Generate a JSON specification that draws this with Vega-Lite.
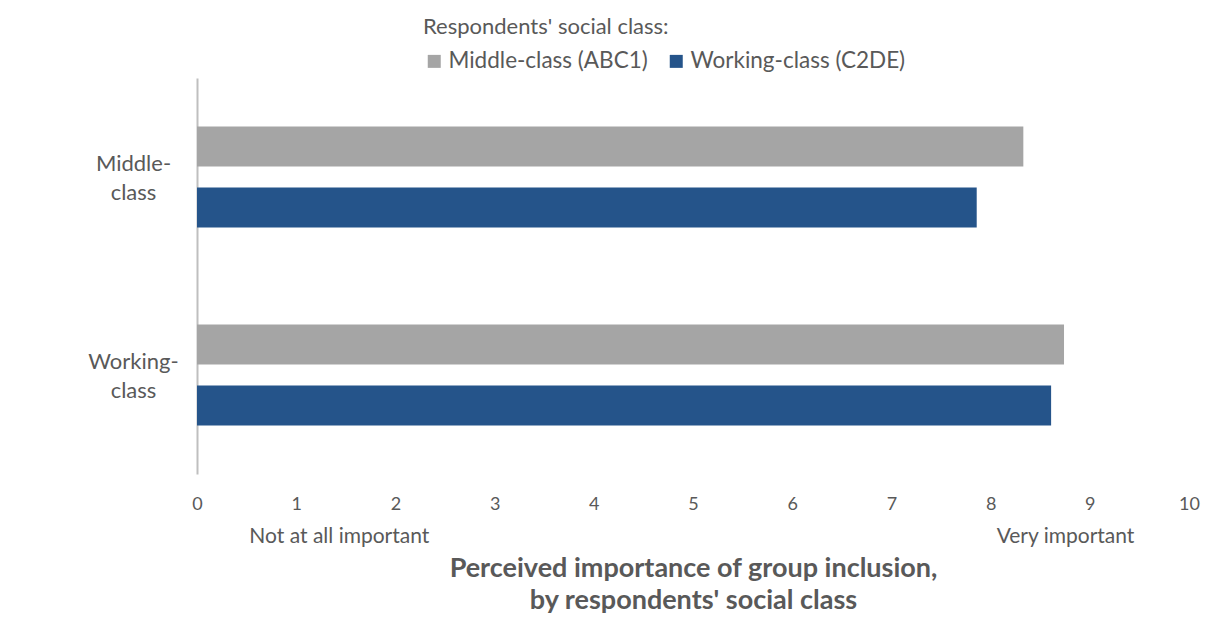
{
  "$schema": "https://vega.github.io/schema/vega-lite/v6.json",
  "autosize": "none",
  "width": 992,
  "height": 396,
  "padding": {"left": 197, "top": 78, "right": 34, "bottom": 151},
  "background": "white",
  "config": {
    "font": "Lato",
    "view": {"stroke": null}
  },
  "data": {
    "values": [
      {"group": "Middle-class", "respondents": "Middle-class (ABC1)", "score": 8.33},
      {"group": "Middle-class", "respondents": "Working-class (C2DE)", "score": 7.86},
      {"group": "Working-class", "respondents": "Middle-class (ABC1)", "score": 8.74},
      {"group": "Working-class", "respondents": "Working-class (C2DE)", "score": 8.61}
    ]
  },
  "mark": {"type": "bar"},
  "encoding": {
    "y": {
      "field": "group",
      "type": "nominal",
      "sort": ["Middle-class", "Working-class"],
      "scale": {"paddingInner": 0, "paddingOuter": 0},
      "axis": {
        "title": null,
        "ticks": false,
        "tickSize": 0,
        "grid": false,
        "domainColor": "#BFBFBF",
        "domainWidth": 2,
        "labelAlign": "center",
        "labelPadding": 64,
        "labelFontSize": 22,
        "labelColor": "#595959",
        "labelLineHeight": 29,
        "labelOffset": -13.5,
        "labelExpr": "datum.label == 'Middle-class' ? ['Middle-', 'class'] : ['Working-', 'class']"
      }
    },
    "yOffset": {
      "field": "respondents",
      "type": "nominal",
      "sort": ["Middle-class (ABC1)", "Working-class (C2DE)"],
      "scale": {"paddingInner": 0.344, "paddingOuter": 0.795}
    },
    "x": {
      "field": "score",
      "type": "quantitative",
      "scale": {"domain": [0, 10], "nice": false},
      "axis": {
        "values": [0, 1, 2, 3, 4, 5, 6, 7, 8, 9, 10, 1.43, 8.75],
        "labelExpr": "datum.value == 1.43 ? ['', 'Not at all important'] : (datum.value == 8.75 ? ['', 'Very important'] : format(datum.value, 'd'))",
        "labelOverlap": false,
        "labelBound": false,
        "labelFlush": false,
        "domain": false,
        "ticks": false,
        "tickSize": 0,
        "grid": false,
        "labelPadding": 21,
        "labelFontSize": {"condition": {"test": "datum.value == 1.43 || datum.value == 8.75", "value": 21}, "value": 18},
        "labelLineHeight": 30,
        "labelColor": "#595959",
        "title": ["Perceived importance of group inclusion,", "by respondents' social class"],
        "titleFontSize": 27,
        "titleFontWeight": "bold",
        "titleColor": "#595959",
        "titleLineHeight": 32,
        "titlePadding": 9
      }
    },
    "color": {
      "field": "respondents",
      "type": "nominal",
      "sort": ["Middle-class (ABC1)", "Working-class (C2DE)"],
      "scale": {"domain": ["Middle-class (ABC1)", "Working-class (C2DE)"], "range": ["#A5A5A5", "#25548A"]},
      "legend": {
        "orient": "none",
        "legendX": 226,
        "legendY": -61,
        "direction": "horizontal",
        "title": "Respondents' social class:",
        "titleFontSize": 22,
        "titleFontWeight": "normal",
        "titleColor": "#595959",
        "titlePadding": 11,
        "titleLimit": 600,
        "labelLimit": 400,
        "labelFontSize": 22.5,
        "labelColor": "#595959",
        "symbolType": "square",
        "symbolSize": 169,
        "symbolStrokeWidth": 0,
        "labelOffset": 3,
        "columnPadding": 17
      }
    }
  }
}
